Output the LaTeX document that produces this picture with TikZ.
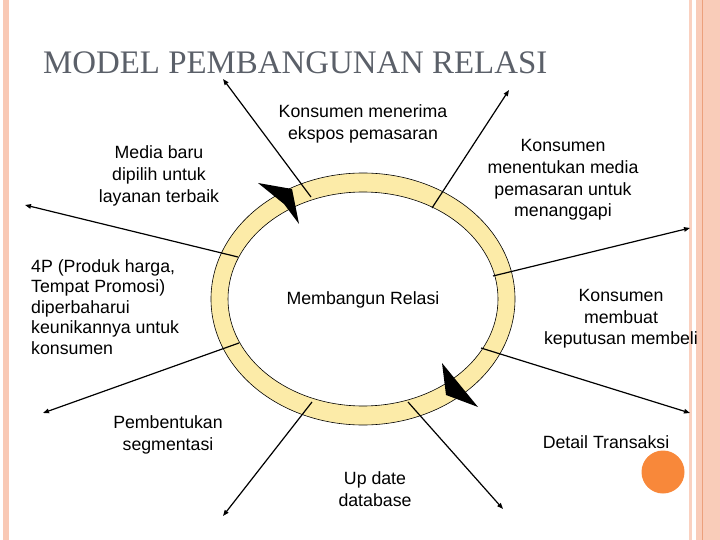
\documentclass[tikz,border=0pt]{standalone}
\usepackage{fontspec}
\setmainfont{Liberation Sans}
\newfontfamily\titlefont{Liberation Serif}
\usetikzlibrary{arrows.meta}
\definecolor{ringyellow}{HTML}{FCEBA8}
\definecolor{bandpink}{HTML}{F9C9B5}
\definecolor{bandline}{HTML}{ECA07C}
\definecolor{titlegray}{HTML}{5B6069}
\definecolor{dotorange}{HTML}{F8883A}
\begin{document}
\begin{tikzpicture}[x=1bp, y=-1bp,
  every node/.style = {align=center, inner sep=0pt,
    font=\fontsize{17.8}{21.8}\selectfont},
  spoke/.style = {line width=1.2bp, -{Triangle[length=6bp, width=4.5bp]}}]
  \useasboundingbox (0,0) rectangle (720,540);
  % page decoration
  \fill[bandpink] (3,0) rectangle (9,540);
  \fill[bandpink!85] (689,0) rectangle (692,540);
  \fill[bandpink!95!white] (696,0) rectangle (720,540);
  \draw[bandline, line width=1.2bp] (702.5,0) -- (702.5,540);
  \fill[dotorange] (663,472) circle [radius=21.5];
  \node[anchor=base west, text=titlegray,
    font=\titlefont\fontsize{33}{33}\selectfont] (title) at (43,74)
    {MODEL PEMBANGUNAN RELASI};
  % ring
  \fill[ringyellow, even odd rule] (363,299) ellipse [x radius=152, y radius=126]
    (363,299) ellipse [x radius=135, y radius=107];
  \draw[line width=0.6bp] (363,299) ellipse [x radius=152, y radius=126];
  \draw[line width=0.6bp] (363,299) ellipse [x radius=135, y radius=107];
  \fill (258,183) -- (292,189) -- (299,224) -- (284,204) -- cycle;
  \fill (442,363) -- (478,407) -- (446,395) -- cycle;
  % spokes
  \foreach \n/\ax/\ay/\bx/\by in {1/311/197/223/79, 2/432/208/509/90,
      3/238/257/25/205, 4/239/343/43/413, 5/312/402/223/516,
      6/408/402/503/509, 7/481/348/690/413, 8/493/276/690/228} {
    \coordinate (p\n) at (\ax,\ay);
    \coordinate (e\n) at (\bx,\by);
    \draw[spoke] (p\n) -- (e\n);
  }
  % labels
  \node (relasi) at (363,300) {Membangun Relasi};
  \node (menerima) at (363,124) {Konsumen menerima\\ekspos pemasaran};
  \node (media) at (159,176) {Media baru\\dipilih untuk\\layanan terbaik};
  \node (menentukan) at (563,180) {Konsumen\\menentukan media\\pemasaran untuk\\menanggapi};
  \node[align=left, font=\fontsize{17.8}{20.5}\selectfont, anchor=west]
    (produk) at (31,307) {4P (Produk harga,\\Tempat Promosi)\\diperbaharui\\keunikannya untuk\\konsumen};
  \node (membeli) at (621,319) {Konsumen\\membuat\\keputusan membeli};
  \node (segmen) at (168,435) {Pembentukan\\segmentasi};
  \node (update) at (375,489) {Up date\\database};
  \node (detail) at (606,442) {Detail Transaksi};
\end{tikzpicture}
\end{document}
